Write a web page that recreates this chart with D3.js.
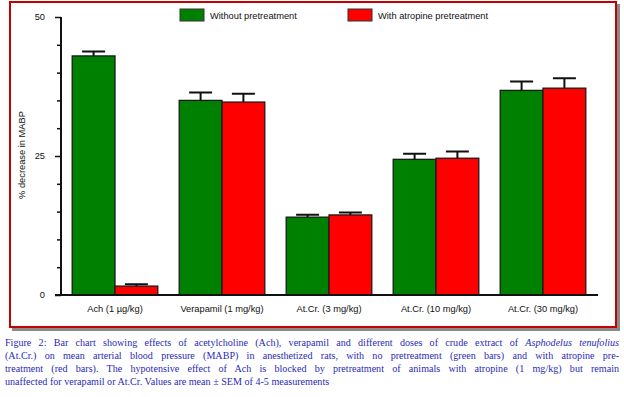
<!DOCTYPE html>
<html><head><meta charset="utf-8">
<script src="https://cdn.jsdelivr.net/npm/d3@7"></script>
<style>
html,body{margin:0;padding:0;background:#fff;}
#wrap{position:relative;width:624px;height:397px;overflow:hidden;}
svg{position:absolute;left:0;top:0;}
#cap{position:absolute;left:5px;top:335.5px;width:614px;font-family:"Liberation Serif",serif;font-size:10.1px;color:#2a2ab8;}
#cap div{height:13.2px;line-height:13.2px;white-space:nowrap;text-align:justify;text-align-last:justify;}
#cap div.last{text-align:left;text-align-last:left;}
</style></head>
<body><div id="wrap"></div>
<script>
const categories = ["Ach (1 µg/kg)", "Verapamil (1 mg/kg)", "At.Cr. (3 mg/kg)", "At.Cr. (10 mg/kg)", "At.Cr. (30 mg/kg)"];
const seriesNames = ["Without pretreatment", "With atropine pretreatment"];
const withoutMean = [43.0, 35.0, 14.0, 24.4, 36.8];
const withoutSem = [0.8, 1.4, 0.45, 1.0, 1.6];
const withMean = [1.6, 34.7, 14.4, 24.6, 37.2];
const withSem = [0.35, 1.5, 0.45, 1.2, 1.8];
const yTicks = [0, 25, 50];
const yMinorTicks = [5, 10, 15, 20, 30, 35, 40, 45];
const yLabel = "% decrease in MABP";
const captionLines = [
  'Figure 2: Bar chart showing effects of acetylcholine (Ach), verapamil and different doses of crude extract of <i>Asphodelus tenufolius</i>',
  '(At.Cr.) on mean arterial blood pressure (MABP) in anesthetized rats, with no pretreatment (green bars) and with atropine pre-',
  'treatment (red bars). The hypotensive effect of Ach is blocked by pretreatment of animals with atropine (1 mg/kg) but remain',
  'unaffected for verapamil or At.Cr. Values are mean ± SEM of 4-5 measurements'
];
const colors = ["#008000", "#ff0000"];

const W = 624, H = 397;
const wrap = d3.select("#wrap");
const svg = wrap.append("svg").attr("width", W).attr("height", H);

// frame with shadow
svg.append("rect").attr("x", 12).attr("y", 4).attr("width", 608).attr("height", 327).attr("fill", "#8a8a8a");
svg.append("rect").attr("x", 10).attr("y", 2).attr("width", 606).attr("height", 325)
  .attr("fill", "#fff").attr("stroke", "#c40000").attr("stroke-width", 2);

const y = d3.scaleLinear().domain([0, 50]).range([295, 17]);
const x0 = d3.scaleBand().domain(categories).range([61.5, 596.5]).paddingInner(0.2).paddingOuter(0.1);
const x1 = d3.scaleBand().domain([0, 1]).range([0, x0.bandwidth()]);

const font = "'Liberation Sans', Arial, sans-serif";

const data = categories.map((c, i) => ({
  cat: c,
  vals: [
    {s: 0, m: withoutMean[i], e: withoutSem[i]},
    {s: 1, m: withMean[i], e: withSem[i]}
  ]
}));

const g = svg.append("g");
const groups = g.selectAll("g.grp").data(data).join("g")
  .attr("transform", d => `translate(${x0(d.cat)},0)`);

// error bars
groups.selectAll("path.err").data(d => d.vals).join("path")
  .attr("d", d => {
    const cx = x1(d.s) + x1.bandwidth() / 2;
    return `M${cx},${y(d.m)}V${y(d.m + d.e)}M${cx - 11.5},${y(d.m + d.e)}H${cx + 11.5}`;
  })
  .attr("stroke", "#111").attr("stroke-width", 2).attr("fill", "none");

groups.selectAll("rect").data(d => d.vals).join("rect")
  .attr("x", d => x1(d.s))
  .attr("y", d => y(d.m))
  .attr("width", x1.bandwidth())
  .attr("height", d => y(0) - y(d.m))
  .attr("fill", d => colors[d.s])
  .attr("stroke", "#1a1a1a").attr("stroke-width", 1.3);

// axes
const yAxis = d3.axisLeft(y).tickValues(yTicks).tickSize(6).tickFormat(d3.format("d"));
const ya = svg.append("g").attr("transform", "translate(61,0)").call(yAxis);
ya.select(".domain").attr("stroke", "#111").attr("stroke-width", 2).attr("d", `M0,${y(50)}V${y(0)}`);
ya.selectAll(".tick line").attr("stroke", "#111").attr("stroke-width", 1.5);
ya.selectAll(".tick text").attr("x", -16).attr("font-family", font).attr("font-size", 9.3).attr("fill", "#111");

const yMinor = d3.axisLeft(y).tickValues(yMinorTicks).tickSize(4).tickFormat("");
const ym = svg.append("g").attr("transform", "translate(61,0)").call(yMinor);
ym.select(".domain").remove();
ym.selectAll(".tick line").attr("stroke", "#111").attr("stroke-width", 1.5);

const xAxis = d3.axisBottom(x0).tickSize(0).tickPadding(10);
const xa = svg.append("g").attr("transform", `translate(0,${y(0)})`).call(xAxis);
xa.select(".domain").attr("stroke", "#111").attr("stroke-width", 2).attr("d", "M55,0H598");
xa.selectAll(".tick text").attr("font-family", font).attr("font-size", 9.3).attr("fill", "#111").attr("dy", "0.71em");

// y label
svg.append("text").attr("transform", "translate(25,155) rotate(-90)")
  .attr("text-anchor", "middle").attr("font-family", font).attr("font-size", 9.3).attr("fill", "#111")
  .text(yLabel);

// legend
const legX = [180, 348];
seriesNames.forEach((n, i) => {
  svg.append("rect").attr("x", legX[i]).attr("y", 9).attr("width", 24).attr("height", 12)
    .attr("fill", colors[i]).attr("stroke", "#333").attr("stroke-width", 1);
  svg.append("text").attr("x", legX[i] + 30).attr("y", 18.5)
    .attr("font-family", font).attr("font-size", 9.3).attr("fill", "#111").text(n);
});

// caption
const cap = wrap.append("div").attr("id", "cap");
captionLines.forEach((l, i) => {
  cap.append("div").attr("class", i === captionLines.length - 1 ? "last" : null).html(l);
});
</script>
</body></html>
